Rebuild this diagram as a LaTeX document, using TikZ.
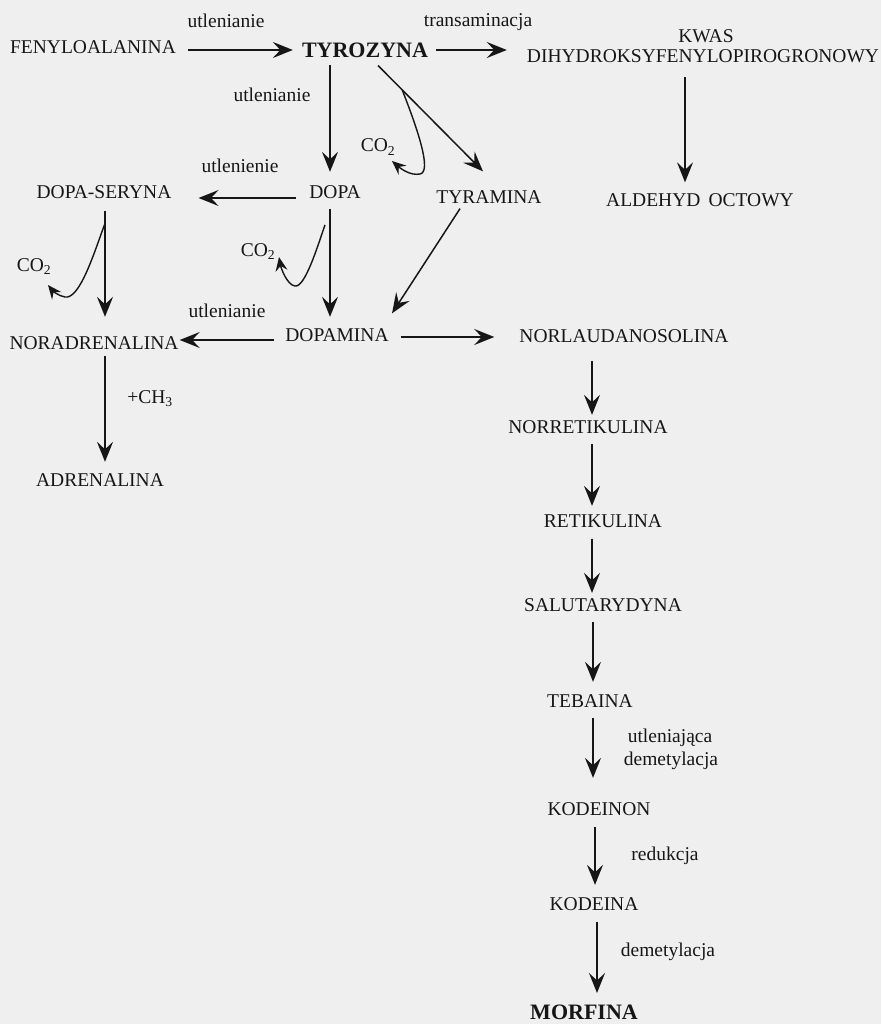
\documentclass[tikz,border=0pt]{standalone}
\usepackage{fontspec}
\setmainfont{Liberation Serif}
\usetikzlibrary{arrows.meta}
\definecolor{bg}{RGB}{239,239,239}
\definecolor{ink}{RGB}{22,22,22}
\tikzset{
  nm/.style={font=\fontsize{19.5}{22}\selectfont, text=ink, inner sep=0pt, text height=12.9pt, text depth=0pt},
  bnm/.style={font=\fontsize{22}{26}\selectfont\bfseries, text=ink, inner sep=0pt, text height=14.6pt, text depth=0pt},
  lb/.style={font=\fontsize{19.5}{22}\selectfont, text=ink, inner sep=0pt, anchor=base},
  arr/.style={draw=ink, line width=1.5pt, -{Stealth[length=20pt,width=16pt,inset=7.5pt]}},
  arrs/.style={draw=ink, line width=1.4pt, -{Stealth[length=14pt,width=12pt,inset=5pt]}}
}
\begin{document}
\begin{tikzpicture}[x=1pt,y=-1pt]
\path[fill=bg] (0,0) rectangle (881,1024);
% compounds
\node[nm] (fen) at (93,47.5) {FENYLOALANINA};
\node[bnm] (tyr) at (365,50) {TYROZYNA};
\node[nm] (kwas) at (706,36) {KWAS};
\node[nm] (dih) at (703,56.5) {DIHYDROKSYFENYLOPIROGRONOWY};
\node[nm] (ald) at (700,200) {ALDEHYD\, OCTOWY};
\node[nm] (ds) at (104,192) {DOPA-SERYNA};
\node[nm] (dopa) at (335,192) {DOPA};
\node[nm] (tyra) at (489,197) {TYRAMINA};
\node[nm] (dpm) at (337,335) {DOPAMINA};
\node[nm] (nor) at (94,343) {NORADRENALINA};
\node[nm] (norl) at (624,336) {NORLAUDANOSOLINA};
\node[nm] (adr) at (100,480) {ADRENALINA};
\node[nm] (nret) at (588,427) {NORRETIKULINA};
\node[nm] (ret) at (603,521) {RETIKULINA};
\node[nm] (sal) at (603,605) {SALUTARYDYNA};
\node[nm] (teb) at (590,701) {TEBAINA};
\node[nm] (kdn) at (599,809) {KODEINON};
\node[nm] (kdi) at (594,904) {KODEINA};
\node[bnm] (mor) at (584,1012) {MORFINA};
% labels
\node[lb] (l1) at (226,28) {utlenianie};
\node[lb] (l2) at (478,27) {transaminacja};
\node[lb] (l3) at (272,102) {utlenianie};
\node[lb] (l4) at (240,173) {utlenienie};
\node[lb] (l5) at (227,317) {utlenianie};
\node[lb] (l6) at (150,403) {+CH\textsubscript{3}};
\node[lb] (l7) at (670,742) {utleniająca};
\node[lb] (l8) at (671,765) {demetylacja};
\node[lb] (l9) at (665,860) {redukcja};
\node[lb] (l10) at (668,956) {demetylacja};
\node[lb] (co2a) at (378,152) {CO\textsubscript{2}};
\node[lb] (co2b) at (34,271) {CO\textsubscript{2}};
\node[lb] (co2c) at (258,256) {CO\textsubscript{2}};
% connectors
\draw[arr] ([shift={(12,2.5)}]fen.east) -- ([shift={(-9,0)}]tyr.west);
\draw[arr] ([shift={(8,0)}]tyr.east) -- ([shift={(-20,-6.5)}]dih.west);
\draw[arr] ([shift={(-18,14)}]dih.south) -- ([shift={(-15,-11)}]ald.north);
\draw[arr] ([shift={(-35,8)}]tyr.south) -- ([shift={(-5,-13.5)}]dopa.north);
\draw[arr] ([shift={(13,8)}]tyr.south) -- coordinate[pos=0.23] (c1) ([shift={(-6,-19)}]tyra.north);
\draw[arrs] (c1) .. controls (418,130) and (432,172) .. (420,174) .. controls (410,176) and (400,168) .. ([shift={(14,9)}]co2a.base);
\draw[arr] ([shift={(-13,6)}]dopa.west) -- ([shift={(27,6)}]ds.east);
\draw[arr] ([shift={(1,12)}]ds.south) -- coordinate[pos=0.12] (c2) ([shift={(11,-19.5)}]nor.north);
\draw[arrs] (c2) .. controls (95,250) and (80,300) .. (65,297) .. controls (58,296) and (52,290) .. ([shift={(14,14)}]co2b.base);
\draw[arr] ([shift={(-5,10)}]dopa.south) -- coordinate[pos=0.15] (c3) ([shift={(-7,-11.5)}]dpm.north);
\draw[arrs] ([shift={(-5,0)}]c3) .. controls (318,245) and (305,288) .. (295,286) .. controls (287,285) and (281,268) .. ([shift={(21,1)}]co2c.base);
\draw[arr] ([shift={(-29,5)}]tyra.south) -- ([shift={(55,-15)}]dpm.north);
\draw[arr] ([shift={(-11,5)}]dpm.west) -- ([shift={(1,-3)}]nor.east);
\draw[arr] ([shift={(12,2)}]dpm.east) -- ([shift={(-25,1)}]norl.west);
\draw[arr] ([shift={(11,6)}]nor.south) -- ([shift={(5,-11.5)}]adr.north);
\draw[arr] ([shift={(-32,18.5)}]norl.south) -- ([shift={(4,-5.5)}]nret.north);
\draw[arr] ([shift={(4,10)}]nret.south) -- ([shift={(-11,-8.5)}]ret.north);
\draw[arr] ([shift={(-11,11)}]ret.south) -- ([shift={(-11,-5.5)}]sal.north);
\draw[arr] ([shift={(-10,10.5)}]sal.south) -- ([shift={(3,-12.5)}]teb.north);
\draw[arr] ([shift={(3,10.5)}]teb.south) -- ([shift={(-6,-24.5)}]kdn.north);
\draw[arr] ([shift={(-4,11.5)}]kdn.south) -- ([shift={(1,-12.5)}]kdi.north);
\draw[arr] ([shift={(3,11.5)}]kdi.south) -- ([shift={(13,-11.5)}]mor.north);
\end{tikzpicture}
\end{document}
